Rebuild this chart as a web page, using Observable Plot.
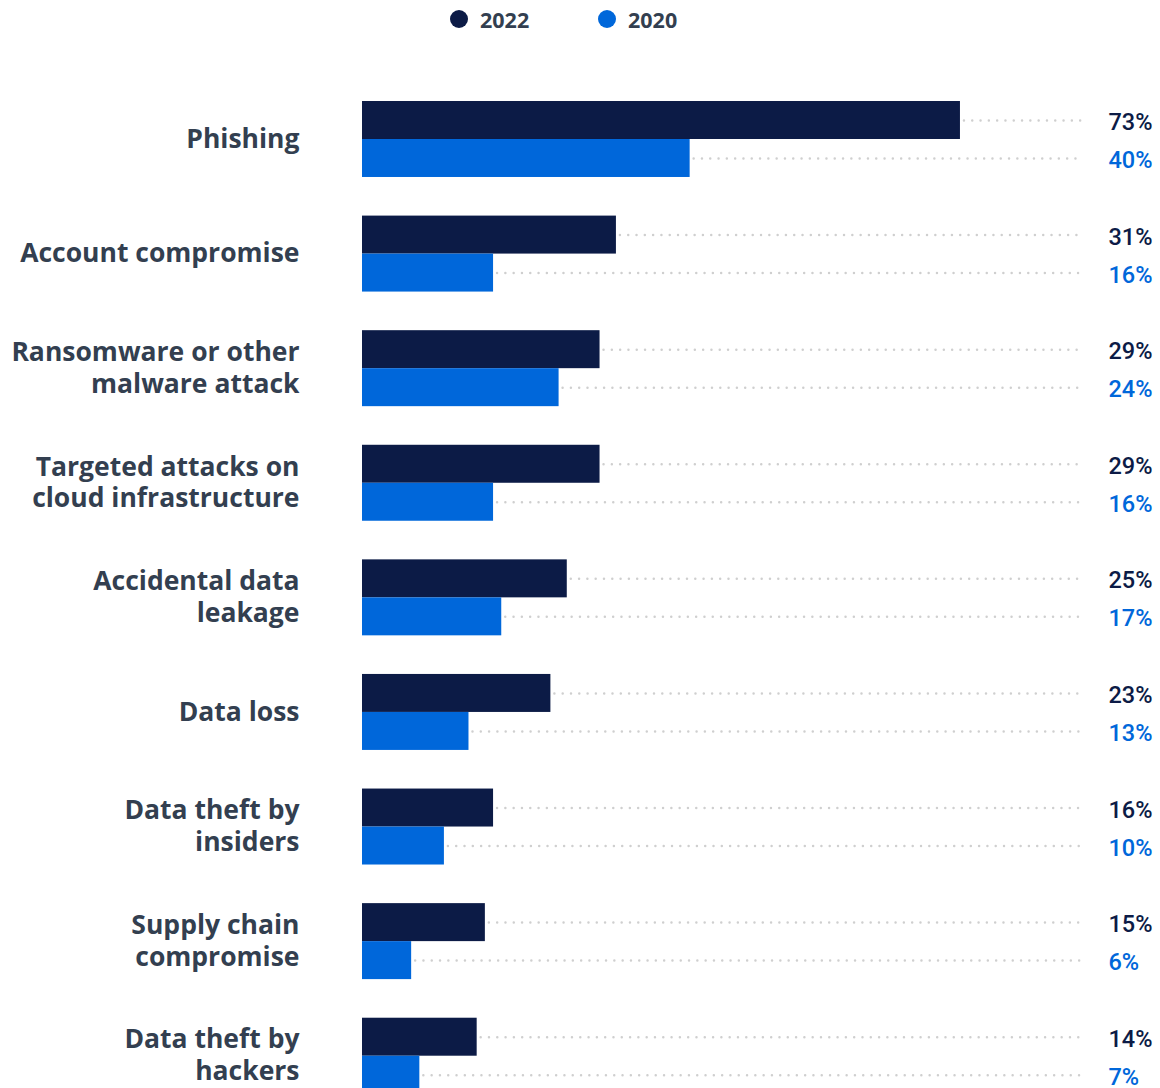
<!DOCTYPE html>
<html><head><meta charset="utf-8">
<script src="https://cdn.jsdelivr.net/npm/d3@7"></script>
<script src="https://cdn.jsdelivr.net/npm/@observablehq/plot@0.6"></script>
<style>
body{margin:0;background:#fff;overflow:hidden;}
#legend{position:relative;height:40px;font-family:"Open Sans",sans-serif;font-weight:700;font-size:21.5px;color:#333f50;}
.item{position:absolute;top:0;height:38px;display:flex;align-items:center;}
.dot{width:18px;height:18px;border-radius:50%;margin-right:12px;}
#chart svg{display:block;}
</style></head>
<body><div id="legend"></div><div id="chart"></div>
<script>
const categories = ["Phishing","Account compromise","Ransomware or other malware attack","Targeted attacks on cloud infrastructure","Accidental data leakage","Data loss","Data theft by insiders","Supply chain compromise","Data theft by hackers"];
const categoryLabels = ["Phishing","Account compromise","Ransomware or other\nmalware attack","Targeted attacks on\ncloud infrastructure","Accidental data\nleakage","Data loss","Data theft by\ninsiders","Supply chain\ncompromise","Data theft by\nhackers"];
const values2022 = [73,31,29,29,25,23,16,15,14];
const values2020 = [40,16,24,16,17,13,10,6,7];
const years = ["2022","2020"];
const colors = ["#0c1b46","#0067da"];

const legend = document.getElementById("legend");
const legendLeft = [450, 598];
years.forEach((y,i)=>{
  const it = document.createElement("div");
  it.className="item"; it.style.left = legendLeft[i]+"px";
  const d = document.createElement("span"); d.className="dot"; d.style.background = colors[i];
  it.appendChild(d); it.appendChild(document.createTextNode(y));
  legend.appendChild(it);
});

const rows = [];
categories.forEach((c,i)=>{
  rows.push({cat:c, year:"2022", value:values2022[i]});
  rows.push({cat:c, year:"2020", value:values2020[i]});
});
const xMax = 87.9;

const chart = Plot.plot({
  width:1160, height:1073,
  marginLeft:362, marginRight:78, marginTop:41.7, marginBottom:0,
  x:{domain:[0,xMax], axis:null},
  y:{domain:years, padding:0, round:false, axis:null},
  fy:{domain:categories, paddingInner:0.337, paddingOuter:0.1685, round:false, axis:null, label:null},
  color:{domain:years, range:colors},
  marks:[
    Plot.ruleY(rows, {fy:"cat", y:"year", x1:"value", x2:xMax, stroke:"#cfcfcf", strokeWidth:2.5, strokeDasharray:"0 8.3", strokeDashoffset:4.3, strokeLinecap:"round"}),
    Plot.barX(rows, {fy:"cat", y:"year", x:"value", fill:"year"}),
    Plot.text(rows, {fy:"cat", y:"year", text:d=>d.value+"%", frameAnchor:"right", dx:26, dy:2, textAnchor:"start", fill:"year", fontFamily:"Roboto", fontWeight:500, fontSize:23.5}),
    Plot.text(categories, {fy:d=>d, text:(d,i)=>categoryLabels[i], frameAnchor:"left", dx:-63, dy:-2, textAnchor:"end", fill:"#333f50", fontFamily:"Open Sans", fontWeight:700, fontSize:26.5, lineHeight:1.2})
  ]
});
document.getElementById("chart").appendChild(chart);
</script>
</body></html>
